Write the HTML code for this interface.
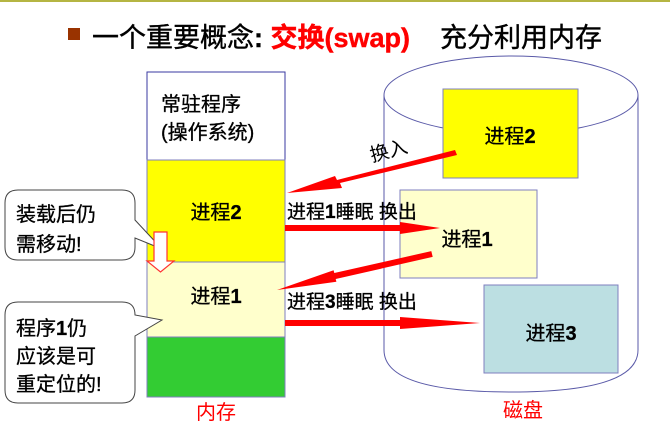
<!DOCTYPE html>
<html><head><meta charset="utf-8"><style>
body{margin:0;width:670px;height:427px;background:#fff;overflow:hidden}
text{font-family:"Liberation Sans","Noto Sans CJK SC",sans-serif}
</style></head><body>
<svg width="670" height="427" viewBox="0 0 670 427" xmlns="http://www.w3.org/2000/svg">
<rect x="0" y="0" width="670" height="2" fill="#b5b543"/>
<rect x="68" y="28" width="12" height="12" fill="#993300"/>
<text x="92" y="47" font-size="27" fill="#000" stroke="#000" stroke-width="0.4">一个重要概念<tspan font-weight="bold">: </tspan><tspan fill="#ff0000" stroke="#ff0000" font-weight="bold">交换(swap)</tspan><tspan x="440">充分利用内存</tspan></text>

<!-- cylinder -->
<path d="M384,95 L384,350 Q384,392 511,392 Q638,392 638,350 L638,95" fill="#fff" stroke="#5a5aa8" stroke-width="1"/>
<ellipse cx="511" cy="95" rx="127" ry="39" fill="#fff" stroke="#5a5aa8" stroke-width="1"/>

<rect x="443" y="89" width="135" height="89" fill="#ffff00" stroke="#7f7fbf"/>
<text x="510" y="143" font-size="20" text-anchor="middle" stroke="#000" stroke-width="0.3">进程<tspan font-weight="bold">2</tspan></text>
<rect x="400" y="190" width="137" height="88" fill="#ffffcc" stroke="#7f7fbf"/>
<text x="467" y="246" font-size="20" text-anchor="middle" stroke="#000" stroke-width="0.3">进程<tspan font-weight="bold">1</tspan></text>
<rect x="484" y="285" width="134" height="88" fill="#bcdfe2" stroke="#7f7fbf"/>
<text x="551" y="340" font-size="20" text-anchor="middle" stroke="#000" stroke-width="0.3">进程<tspan font-weight="bold">3</tspan></text>

<!-- memory -->
<rect x="147" y="72" width="138" height="88" fill="#fff" stroke="#3a3aa0"/>
<rect x="147" y="160" width="138" height="102" fill="#ffff00" stroke="#7f7fbf"/>
<rect x="147" y="262" width="138" height="75" fill="#ffffcc" stroke="#7f7fbf"/>
<rect x="147" y="337" width="138" height="60" fill="#33cc33" stroke="#7f7fbf"/>
<g stroke="#000" stroke-width="0.3">
<text x="161" y="111" font-size="20">常驻程序</text>
<text x="161" y="139" font-size="20">(操作系统)</text>
<text x="216" y="219" font-size="20" text-anchor="middle">进程<tspan font-weight="bold">2</tspan></text>
<text x="216" y="303" font-size="20" text-anchor="middle">进程<tspan font-weight="bold">1</tspan></text>
</g>
<text x="216" y="419" font-size="20" text-anchor="middle" fill="#ff0000">内存</text>
<text x="523" y="417" font-size="20" text-anchor="middle" fill="#ff0000">磁盘</text>

<!-- arrows -->
<g fill="#ff0000">
<polygon points="455,150 457,155 340,183 342,188 287,193 335,176 337,180"/>
<polygon points="285,225 400,225 400,222 440,228 400,234 400,231 285,231"/>
<polygon points="431.3,251.1 432.7,256.9 335.7,279 336.4,281.8 277,290 333.6,270.2 334.3,273"/>
<polygon points="285,320 400,320 400,317 480,323 400,329 400,326 285,326"/>
</g>
<text x="372" y="162" font-size="19" font-family="Liberation Serif" transform="rotate(-15 372 162)">换入</text>
<g stroke="#000" stroke-width="0.3">
<text x="287" y="218" font-size="19">进程<tspan font-weight="bold">1</tspan>睡眠 换出</text>
<text x="287" y="308" font-size="19">进程<tspan font-weight="bold">3</tspan>睡眠 换出</text>
</g>

<!-- callouts -->
<path d="M18,190 H122 Q135,190 135,203 V220 L162,249 L135,238 V247 Q135,260 122,260 H18 Q5,260 5,247 V203 Q5,190 18,190 Z" fill="#fff" stroke="#444"/>
<path d="M18,302 H122 Q135,302 135,315 V315 L162,320 L135,336 V390 Q135,403 122,403 H18 Q5,403 5,390 V315 Q5,302 18,302 Z" fill="#fff" stroke="#444"/>
<g stroke="#000" stroke-width="0.3">
<text x="16" y="221" font-size="20">装载后仍</text>
<text x="16" y="251" font-size="20">需移动!</text>
<text x="16" y="335" font-size="20">程序<tspan font-weight="bold">1</tspan>仍</text>
<text x="16" y="363" font-size="20">应该是可</text>
<text x="16" y="391" font-size="20">重定位的!</text>
</g>

<polygon points="154,232 167,232 167,261 174,261 160.5,272 147,261 154,261" fill="#fff" stroke="#ff3333" stroke-width="1.2"/>
</svg>
</body></html>
